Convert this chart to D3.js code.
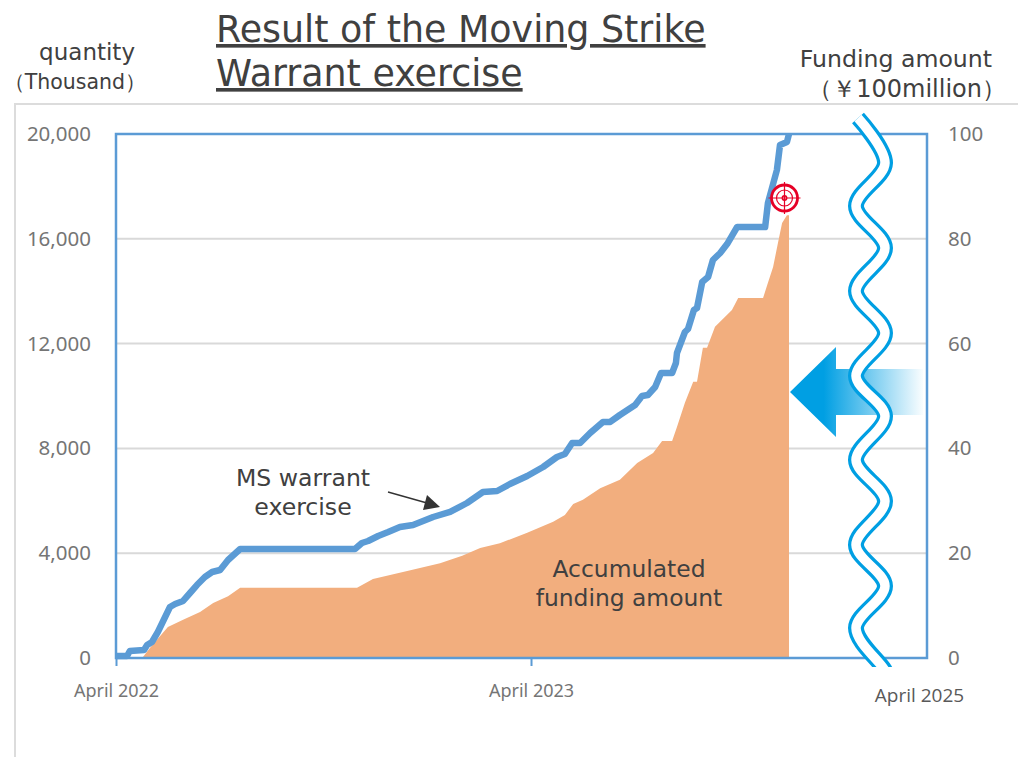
<!DOCTYPE html>
<html>
<head>
<meta charset="utf-8">
<script src="https://cdn.jsdelivr.net/npm/d3@7"></script>
<style>
  html, body { margin: 0; padding: 0; background: #fff; }
  svg { display: block; }
  text { font-family: "DejaVu Sans", sans-serif; }
  .tick text { font-family: "Noto Sans", sans-serif; fill: #757575; }
</style>
</head>
<body>
<div id="chart"></div>
<script>
// months after April 2022
var exercise_months = [0, 0.32, 0.40, 0.81, 0.90, 1.04, 1.21, 1.42, 1.56, 1.71, 1.94, 2.14, 2.34, 2.57, 2.78, 3.01, 3.24, 3.59,
  6.91, 7.11, 7.29, 7.58, 7.87, 8.21, 8.59, 9.17, 9.66, 10.15, 10.61, 11.02, 11.39, 11.89, 12.35, 12.75, 12.98, 13.19, 13.42,
  13.71, 14.08, 14.29, 14.57, 15.01, 15.21, 15.38, 15.59, 15.76, 16.08, 16.19, 16.22, 16.45, 16.54, 16.71, 16.80, 16.95,
  17.12, 17.26, 17.47, 17.67, 17.96, 18.77, 18.85, 19.11, 19.20, 19.40, 19.46];
var exercise_quantity = [76, 76, 267, 305, 496, 611, 992, 1565, 1947, 2061, 2176, 2481, 2786, 3092, 3283, 3359, 3741, 4160,
  4160, 4390, 4466, 4657, 4809, 5000, 5076, 5382, 5573, 5916, 6336, 6374, 6641, 6947, 7290, 7672, 7786, 8206, 8206,
  8588, 9008, 9008, 9275, 9657, 10000, 10038, 10344, 10878, 10878, 11260, 11642, 12443, 12557, 13282, 13359, 14351,
  14542, 15191, 15458, 15800, 16450, 16450, 17366, 18626, 19580, 19695, 20000];

var funding_months = [0.46, 0.78, 0.98, 1.50, 1.94, 2.43, 2.81, 3.24, 3.59, 6.97, 7.43, 8.42, 9.37, 10.01, 10.53, 11.10, 11.89,
  12.64, 12.98, 13.22, 13.50, 14.00, 14.57, 15.07, 15.53, 15.79, 16.08, 16.22, 16.45, 16.69, 16.80, 16.97, 17.09, 17.32, 17.81,
  17.99, 18.71, 18.83, 19.00, 19.14, 19.26, 19.40, 19.46];
var funding_amount = [0, 0.2, 1.9, 5.9, 7.3, 8.8, 10.5, 11.8, 13.4, 13.4, 15.1, 16.6, 18.1, 19.5, 21.0, 21.9, 23.9,
  26.0, 27.3, 29.4, 30.2, 32.4, 34.0, 37.2, 39.1, 41.4, 41.4, 44.1, 48.7, 52.7, 52.7, 59.2, 59.2, 63.2, 66.4,
  68.7, 68.7, 71.2, 74.6, 79.2, 83.0, 84.5, 84.5];

var quantity_ticks = [0, 4000, 8000, 12000, 16000, 20000];
var funding_ticks = [0, 20, 40, 60, 80, 100];
var month_ticks = [0, 12];
var month_labels = ["April 2022", "April 2023"];

var title_lines = ["Result of the Moving Strike", "Warrant exercise"];

var width = 1018, height = 757;
var blue = "#5b9bd5", cyan = "#009fe3";

var svg = d3.select("#chart").append("svg")
    .attr("width", width)
    .attr("height", height);

var x = d3.scaleLinear().domain([0, 23.45]).range([116, 927]);
var y_left = d3.scaleLinear().domain([0, 20000]).range([658, 134]);
var y_right = d3.scaleLinear().domain([0, 100]).range([658, 134]);

// pale frame behind the chart
svg.append("path")
    .attr("d", "M15,757V104H1018")
    .attr("fill", "none")
    .attr("stroke", "#dcdcdc")
    .attr("stroke-width", 2);

// gridlines
svg.append("g").selectAll("line")
    .data(quantity_ticks.slice(1, -1))
  .enter().append("line")
    .attr("x1", x.range()[0])
    .attr("x2", x.range()[1])
    .attr("y1", function(d) { return y_left(d); })
    .attr("y2", function(d) { return y_left(d); })
    .attr("stroke", "#d9d9d9")
    .attr("stroke-width", 2);

// funding area
var area = d3.area()
    .x(function(d) { return x(d[0]); })
    .y0(y_right(0))
    .y1(function(d) { return y_right(d[1]); });

svg.append("path")
    .attr("d", area(d3.zip(funding_months, funding_amount)))
    .attr("fill", "#f2ae7e");

// plot frame and axes
svg.append("rect")
    .attr("x", x.range()[0])
    .attr("y", y_left.range()[1])
    .attr("width", x.range()[1] - x.range()[0])
    .attr("height", y_left.range()[0] - y_left.range()[1])
    .attr("fill", "none")
    .attr("stroke", blue)
    .attr("stroke-width", 2.5);

var axis_left = svg.append("g")
    .attr("transform", "translate(" + x.range()[0] + ",0)")
    .call(d3.axisLeft(y_left).tickValues(quantity_ticks).tickFormat(d3.format(",d")).tickSize(0).tickPadding(25));
var axis_right = svg.append("g")
    .attr("transform", "translate(" + x.range()[1] + ",0)")
    .call(d3.axisRight(y_right).tickValues(funding_ticks).tickSize(0).tickPadding(21));
var axis_bottom = svg.append("g")
    .attr("transform", "translate(0," + y_left.range()[0] + ")")
    .call(d3.axisBottom(x).tickValues(month_ticks).tickFormat(function(d, i) { return month_labels[i]; }).tickSize(8).tickPadding(18));

[axis_left, axis_right, axis_bottom].forEach(function(a) {
  a.select(".domain").remove();
  a.selectAll(".tick text").style("font-size", "20.5px");
  a.selectAll(".tick line").attr("stroke", blue).attr("stroke-width", 2);
});
axis_bottom.selectAll(".tick text").style("font-size", "18px");

// exercised quantity line
var line = d3.line()
    .x(function(d) { return x(d[0]); })
    .y(function(d) { return y_left(d[1]); });

svg.append("path")
    .attr("d", line(d3.zip(exercise_months, exercise_quantity)))
    .attr("fill", "none")
    .attr("stroke", blue)
    .attr("stroke-width", 6.5)
    .attr("stroke-linejoin", "round");

// arrow pointing at the funding area
var defs = svg.append("defs");
var grad = defs.append("linearGradient")
    .attr("id", "arrow-fade")
    .attr("gradientUnits", "userSpaceOnUse")
    .attr("x1", 790).attr("x2", 925).attr("y1", 0).attr("y2", 0);
grad.append("stop").attr("offset", "0.25").attr("stop-color", cyan);
grad.append("stop").attr("offset", "1").attr("stop-color", "#ffffff");

svg.append("path")
    .attr("d", "M790,392L836,347V369H923V415H836V437Z")
    .attr("fill", "url(#arrow-fade)");

// axis break, white band with blue edges
defs.append("clipPath").attr("id", "wave-clip")
  .append("rect").attr("x", 830).attr("y", 100).attr("width", 80).attr("height", 567);

var wave_points = [[858, 118], [885, 163], [856, 206], [885, 248], [856, 291], [885, 333], [856, 376], [885, 416],
  [856, 460], [885, 501], [856, 545], [885, 586], [856, 628], [884, 669], [890, 680]];
var wave = d3.line().curve(d3.curveCatmullRom.alpha(0.5));

var wave_group = svg.append("g").attr("clip-path", "url(#wave-clip)");
wave_group.append("path")
    .attr("d", wave(wave_points))
    .attr("fill", "none")
    .attr("stroke", cyan)
    .attr("stroke-width", 16);
wave_group.append("path")
    .attr("d", wave(wave_points))
    .attr("fill", "none")
    .attr("stroke", "#fff")
    .attr("stroke-width", 9.5);

// target marker
var target = svg.append("g")
    .attr("transform", "translate(784.5,198)")
    .attr("fill", "none")
    .attr("stroke", "#e60026");
target.append("circle").attr("r", 13).attr("stroke-width", 2.8).attr("fill", "#fff").attr("fill-opacity", 0.6);
target.append("circle").attr("r", 8).attr("stroke-width", 1.2);
target.append("circle").attr("r", 2.2).attr("stroke-width", 1.5);
target.append("path").attr("d", "M-16,0H16M0,-16V16").attr("stroke-width", 1.2);

// callout arrow
svg.append("line")
    .attr("x1", 388).attr("y1", 492)
    .attr("x2", 427).attr("y2", 503)
    .attr("stroke", "#333")
    .attr("stroke-width", 1.3);
svg.append("path")
    .attr("d", "M440,507L427,495L423,510Z")
    .attr("fill", "#333");

// title
svg.append("g").selectAll("text")
    .data(title_lines)
  .enter().append("text")
    .attr("x", 216)
    .attr("y", function(d, i) { return 42 + i * 44; })
    .attr("text-decoration", "underline")
    .attr("fill", "#404040")
    .style("font-size", "36.4px")
    .text(function(d) { return d; });

// free labels
var labels = [
  ["quantity", 135, 60, 23, "end", "#404040", "DejaVu Sans"],
  ["\uff08Thousand\uff09", 146, 89, 20.5, "end", "#404040", "DejaVu Sans"],
  ["Funding amount", 992, 67, 23.6, "end", "#404040", "DejaVu Sans"],
  ["\uff08\uffe5100million\uff09", 1006, 97, 24, "end", "#404040", "DejaVu Sans"],
  ["MS warrant", 303, 486, 23.6, "middle", "#404040", "DejaVu Sans"],
  ["exercise", 303, 515, 23.6, "middle", "#404040", "DejaVu Sans"],
  ["Accumulated", 629, 577, 23.4, "middle", "#404040", "DejaVu Sans"],
  ["funding amount", 629, 606, 23.4, "middle", "#404040", "DejaVu Sans"],
  ["April 2025", 919.5, 702, 19, "middle", "#595959", "Open Sans"]
];

svg.append("g").selectAll("text")
    .data(labels)
  .enter().append("text")
    .attr("x", function(d) { return d[1]; })
    .attr("y", function(d) { return d[2]; })
    .attr("text-anchor", function(d) { return d[4]; })
    .attr("fill", function(d) { return d[5]; })
    .style("font-size", function(d) { return d[3] + "px"; })
    .style("font-family", function(d) { return d[6]; })
    .text(function(d) { return d[0]; });
</script>
</body>
</html>
